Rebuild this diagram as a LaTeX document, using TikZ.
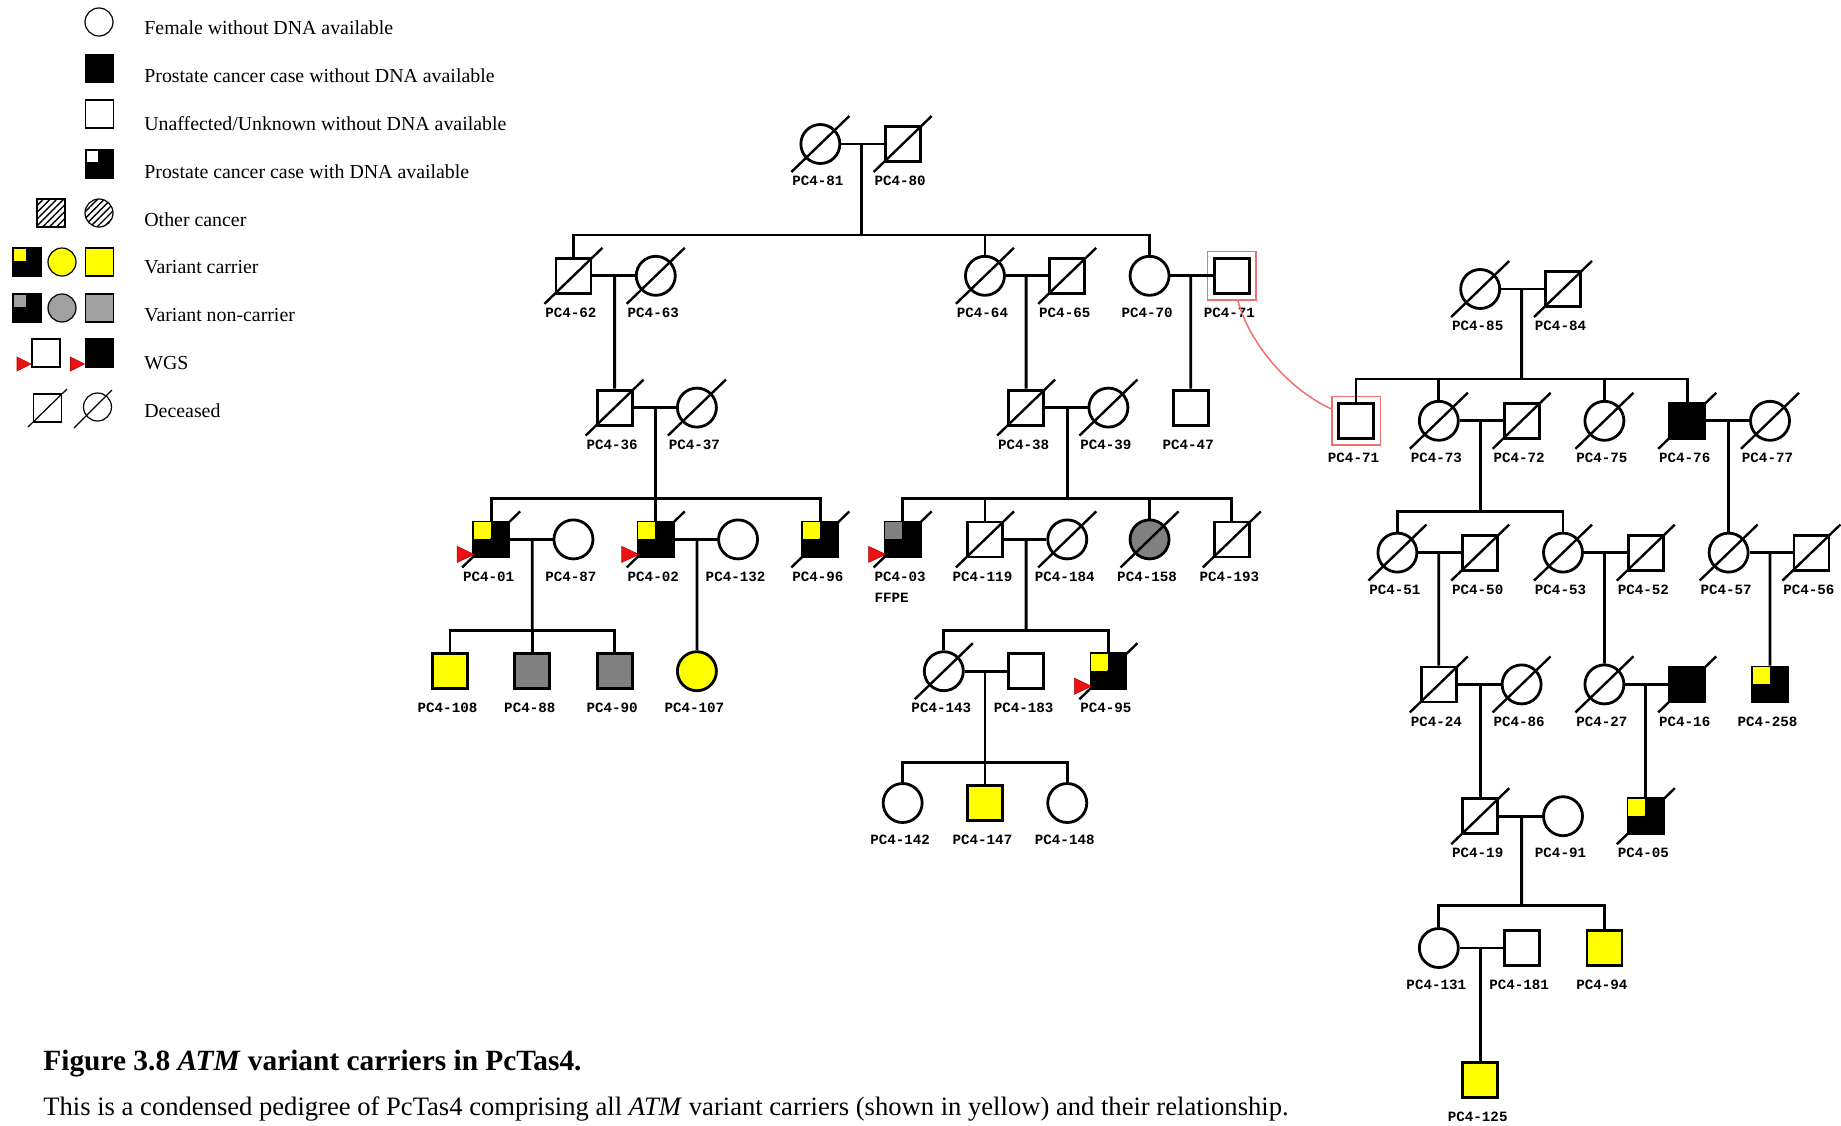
\documentclass[tikz,border=0pt]{standalone}
\usepackage{fontspec}
\setmainfont{Liberation Serif}
\newfontfamily\labmono{Liberation Mono}
\usetikzlibrary{calc,patterns.meta}
\definecolor{vyel}{HTML}{FFFF00}
\definecolor{vgry}{HTML}{808080}
\definecolor{lgry}{HTML}{A0A0A0}
\definecolor{wred}{HTML}{EE1111}
\definecolor{boxred}{HTML}{F07070}
\tikzset{
 sq/.style={draw, rectangle, minimum size=17.5pt, inner sep=0pt, line width=1.4pt, fill=white},
 ci/.style={draw, circle, minimum size=19.5pt, inner sep=0pt, line width=1.4pt, fill=white},
 aff/.style={fill=black}, yel/.style={fill=vyel}, gry/.style={fill=vgry},
 lab/.style={font=\labmono\bfseries\fontsize{7.1}{8}\selectfont, inner sep=0pt},
 rbox/.style={draw=boxred, rectangle, line width=0.75pt, inner sep=0pt},
 redc/.style={draw=boxred, line width=0.75pt},
 lsq/.style={draw, rectangle, minimum size=14pt, inner sep=0pt, line width=0.6pt, fill=white},
 lci/.style={draw, circle, minimum size=14pt, inner sep=0pt, line width=0.6pt, fill=white},
 ltxt/.style={anchor=base west, inner sep=0pt, font=\fontsize{9.93}{12}\selectfont},
 hatch/.style={pattern={Lines[angle=45,distance=2.4pt,line width=0.7pt]}},
}
\newcommand\dead[1]{\draw[line width=1.2pt] ($(#1)+(-14.5pt,-14pt)$) -- ($(#1)+(14.5pt,14pt)$);}
\newcommand\quadr[2]{\draw[fill=#2, line width=0.35pt] ($(#1)+(-9pt,9pt)$) rectangle ($(#1)+(0pt,0pt)$);}
\newcommand\wgs[1]{\filldraw[fill=wred, draw=wred!70!black, line width=0.3pt] ($(#1)+(-17pt,-3.5pt)$) -- ($(#1)+(-8.5pt,-7.5pt)$) -- ($(#1)+(-17pt,-11.5pt)$) -- cycle;}
\newcommand\ind[5]{\node[#1] (#2) at (#3,#4) {};
 \node[lab] (#2l) at ($(#3,#4)+(-1.25pt,-18.5pt)$) {#5};}
\begin{document}
\begin{tikzpicture}[x=0.5pt, y=-0.5pt, line width=1.4pt, line join=miter]
\useasboundingbox (0,0) rectangle (1841,1125);
% ---------------- legend
\node[lci] (L1) at (99,22) {};
\node[lsq, fill=black] (L2) at (99.5,68.5) {};
\node[lsq] (L3) at (99.5,114) {};
\node[lsq, fill=black] (L4) at (99.5,164) {};
\draw[fill=white, line width=0.3pt] ($(L4)+(-6.8pt,6.8pt)$) rectangle ($(L4)+(-0.8pt,0.8pt)$);
\node[lsq, hatch] (L5a) at (51,213) {};
\node[lci, hatch] (L5b) at (99,213) {};
\node[lsq, fill=black] (L6a) at (27,262) {};
\draw[fill=vyel, line width=0.3pt] ($(L6a)+(-6.8pt,6.8pt)$) rectangle ($(L6a)+(-0.5pt,0.5pt)$);
\node[lci, fill=vyel] (L6b) at (62,262) {};
\node[lsq, fill=vyel] (L6c) at (99.5,262) {};
\node[lsq, fill=black] (L7a) at (27,308) {};
\draw[fill=lgry, line width=0.3pt] ($(L7a)+(-6.8pt,6.8pt)$) rectangle ($(L7a)+(-0.5pt,0.5pt)$);
\node[lci, fill=lgry] (L7b) at (62,308) {};
\node[lsq, fill=lgry] (L7c) at (99.5,308) {};
\node[lsq] (L8a) at (46,353) {};
\filldraw[fill=wred, draw=wred!70!black, line width=0.3pt] ($(L8a)+(-14.5pt,-2pt)$) -- ($(L8a)+(-7.5pt,-5.5pt)$) -- ($(L8a)+(-14.5pt,-9pt)$) -- cycle;
\node[lsq, fill=black] (L8b) at (99.5,353) {};
\filldraw[fill=wred, draw=wred!70!black, line width=0.3pt] ($(L8b)+(-14.5pt,-2pt)$) -- ($(L8b)+(-7.5pt,-5.5pt)$) -- ($(L8b)+(-14.5pt,-9pt)$) -- cycle;
\node[lsq] (L9a) at (47.5,408) {};
\draw[line width=0.6pt] ($(L9a)+(-9.75pt,-9.5pt)$) -- ($(L9a)+(9.75pt,9.5pt)$);
\node[lci] (L9b) at (97.5,407) {};
\draw[line width=0.6pt] ($(L9b)+(-11.75pt,-10.5pt)$) -- ($(L9b)+(7.25pt,8.5pt)$);
\node[ltxt] (T1) at (143,34.5) {Female without DNA available};
\node[ltxt] (T2) at (143,82.5) {Prostate cancer case without DNA available};
\node[ltxt] (T3) at (143,130) {Unaffected/Unknown without DNA available};
\node[ltxt] (T4) at (143,178) {Prostate cancer case with DNA available};
\node[ltxt] (T5) at (143,226) {Other cancer};
\node[ltxt] (T6) at (143,273.5) {Variant carrier};
\node[ltxt] (T7) at (143,321.5) {Variant non-carrier};
\node[ltxt] (T8) at (143,369) {WGS};
\node[ltxt] (T9) at (143,417) {Deceased};
% ---------------- left family
\begin{scope}[shift={(450,144)}, x=20.575pt, y=-65.9pt]
\ind{ci}{p81}{9}{0}{PC4-81} \dead{p81}
\ind{sq}{p80}{11}{0}{PC4-80} \dead{p80}
\ind{sq}{p62}{3}{1}{PC4-62} \dead{p62}
\ind{ci}{p63}{5}{1}{PC4-63} \dead{p63}
\ind{ci}{p64}{13}{1}{PC4-64} \dead{p64}
\ind{sq}{p65}{15}{1}{PC4-65} \dead{p65}
\ind{ci}{p70}{17}{1}{PC4-70}
\ind{sq}{p71}{19}{1}{PC4-71}
\node[rbox, minimum size=24.25pt] (r71) at (p71) {};
\ind{sq}{p36}{4}{2}{PC4-36} \dead{p36}
\ind{ci}{p37}{6}{2}{PC4-37} \dead{p37}
\ind{sq}{p38}{14}{2}{PC4-38} \dead{p38}
\ind{ci}{p39}{16}{2}{PC4-39} \dead{p39}
\ind{sq}{p47}{18}{2}{PC4-47}
\ind{sq,aff}{p01}{1}{3}{PC4-01} \quadr{p01}{vyel} \dead{p01} \wgs{p01}
\ind{ci}{p87}{3}{3}{PC4-87}
\ind{sq,aff}{p02}{5}{3}{PC4-02} \quadr{p02}{vyel} \dead{p02} \wgs{p02}
\ind{ci}{p132}{7}{3}{PC4-132}
\ind{sq,aff}{p96}{9}{3}{PC4-96} \quadr{p96}{vyel} \dead{p96}
\ind{sq,aff}{p03}{11}{3}{PC4-03} \quadr{p03}{vgry} \dead{p03} \wgs{p03}
\node[lab, anchor=west] (p03f) at ($(p03l.west)+(0,-10.5pt)$) {FFPE};
\ind{sq}{p119}{13}{3}{PC4-119} \dead{p119}
\ind{ci}{p184}{15}{3}{PC4-184} \dead{p184}
\ind{ci,gry}{p158}{17}{3}{PC4-158} \dead{p158}
\ind{sq}{p193}{19}{3}{PC4-193} \dead{p193}
\ind{sq,yel}{p108}{0}{4}{PC4-108}
\ind{sq,gry}{p88}{2}{4}{PC4-88}
\ind{sq,gry}{p90}{4}{4}{PC4-90}
\ind{ci,yel}{p107}{6}{4}{PC4-107}
\ind{ci}{p143}{12}{4}{PC4-143} \dead{p143}
\ind{sq}{p183}{14}{4}{PC4-183}
\ind{sq,aff}{p95}{16}{4}{PC4-95} \quadr{p95}{vyel} \dead{p95} \wgs{p95}
\ind{ci}{p142}{11}{5}{PC4-142}
\ind{sq,yel}{p147}{13}{5}{PC4-147}
\ind{ci}{p148}{15}{5}{PC4-148}
% connectors
\draw (p81) -- (p80); \coordinate (m1) at ($(p81)!.5!(p80)$);
\coordinate (s1) at (10,0.69);
\draw (m1) -- (s1);
\draw (p62.north) |- (s1) -| (p70.north);
\draw (s1 -| p64) -- (p64.north);
\draw (p62) -- (p63); \coordinate (m2) at ($(p62)!.5!(p63)$); \draw (m2) -- (p36.north);
\draw (p64) -- (p65); \coordinate (m3) at ($(p64)!.5!(p65)$); \draw (m3) -- (p38.north);
\draw (p70) -- (p71); \coordinate (m4) at ($(p70)!.5!(p71)$); \draw (m4) -- (p47.north);
\draw (p36) -- (p37); \coordinate (m5) at ($(p36)!.5!(p37)$);
\coordinate (s5) at (5,2.69);
\draw (m5) -- (s5); \draw (p01.north) |- (s5) -| (p96.north); \draw (s5 -| p02) -- (p02.north);
\draw (p38) -- (p39); \coordinate (m6) at ($(p38)!.5!(p39)$);
\coordinate (s6) at (15,2.69);
\draw (m6) -- (s6); \draw (p03.north) |- (s6) -| (p193.north);
\draw (s6 -| p119) -- (p119.north); \draw (s6 -| p158) -- (p158.north);
\draw (p01) -- (p87); \coordinate (m7) at ($(p01)!.5!(p87)$);
\coordinate (s7) at (2,3.69);
\draw (m7) -- (s7); \draw (p108.north) |- (s7) -| (p90.north); \draw (s7 -| p88) -- (p88.north);
\draw (p02) -- (p132); \coordinate (m8) at ($(p02)!.5!(p132)$); \draw (m8) -- (p107.north);
\draw (p119) -- (p184); \coordinate (m9) at ($(p119)!.5!(p184)$);
\coordinate (s9) at (14,3.69);
\draw (m9) -- (s9); \draw (p143.north) |- (s9) -| (p95.north);
\draw (p143) -- (p183); \coordinate (m10) at ($(p143)!.5!(p183)$);
\coordinate (s10) at (13,4.69);
\draw (m10) -- (s10); \draw (p142.north) |- (s10) -| (p148.north); \draw (s10 -| p147) -- (p147.north);
\end{scope}
% ---------------- right family
\begin{scope}[shift={(1356,289)}, x=20.7pt, y=-65.9pt]
\ind{ci}{p85}{3}{0}{PC4-85} \dead{p85}
\ind{sq}{p84}{5}{0}{PC4-84} \dead{p84}
\ind{sq}{p71b}{0}{1}{PC4-71}
\node[rbox, minimum size=24.25pt] (r71b) at (p71b) {};
\ind{ci}{p73}{2}{1}{PC4-73} \dead{p73}
\ind{sq}{p72}{4}{1}{PC4-72} \dead{p72}
\ind{ci}{p75}{6}{1}{PC4-75} \dead{p75}
\ind{sq,aff}{p76}{8}{1}{PC4-76} \dead{p76}
\ind{ci}{p77}{10}{1}{PC4-77} \dead{p77}
\ind{ci}{p51}{1}{2}{PC4-51} \dead{p51}
\ind{sq}{p50}{3}{2}{PC4-50} \dead{p50}
\ind{ci}{p53}{5}{2}{PC4-53} \dead{p53}
\ind{sq}{p52}{7}{2}{PC4-52} \dead{p52}
\ind{ci}{p57}{9}{2}{PC4-57} \dead{p57}
\ind{sq}{p56}{11}{2}{PC4-56} \dead{p56}
\ind{sq}{p24}{2}{3}{PC4-24} \dead{p24}
\ind{ci}{p86}{4}{3}{PC4-86} \dead{p86}
\ind{ci}{p27}{6}{3}{PC4-27} \dead{p27}
\ind{sq,aff}{p16}{8}{3}{PC4-16} \dead{p16}
\ind{sq,aff}{p258}{10}{3}{PC4-258} \quadr{p258}{vyel}
\ind{sq}{p19}{3}{4}{PC4-19} \dead{p19}
\ind{ci}{p91}{5}{4}{PC4-91}
\ind{sq,aff}{p05}{7}{4}{PC4-05} \quadr{p05}{vyel} \dead{p05}
\ind{ci}{p131}{2}{5}{PC4-131}
\ind{sq}{p181}{4}{5}{PC4-181}
\ind{sq,yel}{p94}{6}{5}{PC4-94}
\ind{sq,yel}{p125}{3}{6}{PC4-125}
% connectors
\draw (p85) -- (p84); \coordinate (mr1) at ($(p85)!.5!(p84)$);
\coordinate (sr1) at (4,0.683);
\draw (mr1) -- (sr1); \draw (p71b.north) |- (sr1) -| (p76.north);
\draw (sr1 -| p73) -- (p73.north); \draw (sr1 -| p75) -- (p75.north);
\draw (p73) -- (p72); \coordinate (mr2) at ($(p73)!.5!(p72)$);
\coordinate (sr2) at (3,1.69);
\draw (mr2) -- (sr2); \draw (p51.north) |- (sr2) -| (p53.north);
\draw (p76) -- (p77); \coordinate (mr3) at ($(p76)!.5!(p77)$); \draw (mr3) -- (p57.north);
\draw (p51) -- (p50); \coordinate (mr4) at ($(p51)!.5!(p50)$); \draw (mr4) -- (p24.north);
\draw (p53) -- (p52); \coordinate (mr5) at ($(p53)!.5!(p52)$); \draw (mr5) -- (p27.north);
\draw (p57) -- (p56); \coordinate (mr6) at ($(p57)!.5!(p56)$); \draw (mr6) -- (p258.north);
\draw (p24) -- (p86); \coordinate (mr7) at ($(p24)!.5!(p86)$); \draw (mr7) -- (p19.north);
\draw (p27) -- (p16); \coordinate (mr8) at ($(p27)!.5!(p16)$); \draw (mr8) -- (p05.north);
\draw (p19) -- (p91); \coordinate (mr9) at ($(p19)!.5!(p91)$);
\coordinate (sr9) at (4,4.68);
\draw (mr9) -- (sr9); \draw (p131.north) |- (sr9) -| (p94.north);
\draw (p131) -- (p181); \coordinate (mr10) at ($(p131)!.5!(p181)$); \draw (mr10) -- (p125.north);
\end{scope}
% red link between the two PC4-71 symbols
\draw[redc] ($(r71.south)+(3pt,0)$) .. controls (1250,345) and (1290,390) .. ($(r71b.west)+(0,6pt)$);
% ---------------- caption
\node[anchor=base west, inner sep=0pt, font=\fontsize{14.7}{17}\selectfont\bfseries] (cap1) at (42,1070) {Figure 3.8 \textit{ATM} variant carriers in PcTas4.};
\node[anchor=base west, inner sep=0pt, font=\fontsize{13.3}{16}\selectfont] (cap2) at (42,1115) {This is a condensed pedigree of PcTas4 comprising all \textit{ATM} variant carriers (shown in yellow) and their relationship.};
\end{tikzpicture}
\end{document}
